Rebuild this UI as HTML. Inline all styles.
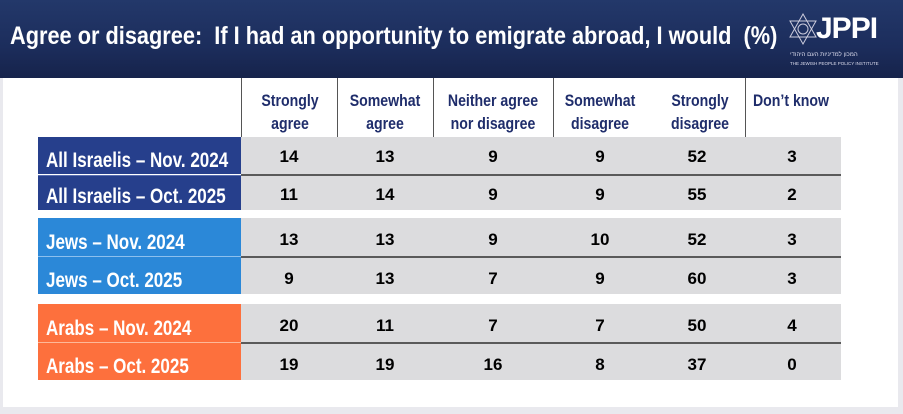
<!DOCTYPE html>
<html><head><meta charset="utf-8"><style>
*{margin:0;padding:0;box-sizing:border-box}
body{width:903px;height:414px;background:#e9e9ee;position:relative;overflow:hidden;font-family:"Liberation Sans",sans-serif}
.main{position:absolute;left:3px;top:0;width:895px;height:407px;background:#fff}
.hdr{position:absolute;left:0;top:0;width:903px;height:78px;background:linear-gradient(180deg,#23386a 0%,#1c2d5c 60%,#16234b 100%)}
.title{position:absolute;left:10px;top:22px;color:#fff;font-weight:bold;font-size:25px;white-space:nowrap;transform:scaleX(0.87);transform-origin:0 0}
.colh{position:absolute;top:89px;color:#1f2d6b;font-weight:bold;font-size:17px;text-align:center;line-height:23px;transform:scaleX(0.83)}
.vl{position:absolute;top:78px;height:59px;width:1px;background:#555}
.lab{position:absolute;left:38px;width:203px;color:#fff;font-weight:bold;font-size:21px;display:flex;align-items:flex-end;padding-bottom:1px;white-space:nowrap}
.lab span{display:inline-block;margin-left:8px;transform:scaleX(0.81);transform-origin:0 100%}
.g{position:absolute;left:241px;width:600px;background:#dcdcde}
.sep{position:absolute;left:241px;width:600px;height:2px;background:#5a5a5a}
.n{position:absolute;font-weight:bold;font-size:17px;color:#000;text-align:center;width:40px}
</style></head><body>
<div class="main"></div>
<div class="hdr"></div>
<div class="title">Agree or disagree:&nbsp; If I had an opportunity to emigrate abroad, I would&nbsp; (%)</div>
<svg style="position:absolute;left:788px;top:12px" width="30" height="34" viewBox="0 0 30 34"><polygon points="15,2 28,25 2,25" fill="none" stroke="#ccd" stroke-width="1"/><polygon points="15,32 28,9 2,9" fill="none" stroke="#ccd" stroke-width="1"/><circle cx="15" cy="17" r="5" fill="none" stroke="#ccd"/></svg>
<div style="position:absolute;left:816px;top:12px;color:#fff;font-weight:bold;font-size:30px;letter-spacing:-1px">JPPI</div>
<div style="position:absolute;left:790px;top:52px;color:#dde;font-size:6px">המכון למדיניות העם היהודי</div>
<div style="position:absolute;left:790px;top:61px;color:#dde;font-size:4.5px">THE JEWISH PEOPLE POLICY INSTITUTE</div>

<div class="vl" style="left:241px"></div><div class="vl" style="left:337px"></div><div class="vl" style="left:433px"></div><div class="vl" style="left:553px"></div><div class="vl" style="left:745px"></div>
<div class="colh" style="left:245px;width:90px">Strongly<br>agree</div>
<div class="colh" style="left:335px;width:100px">Somewhat<br>agree</div>
<div class="colh" style="left:428px;width:130px">Neither agree<br>nor disagree</div>
<div class="colh" style="left:550px;width:100px">Somewhat<br>disagree</div>
<div class="colh" style="left:650px;width:100px">Strongly<br>disagree</div>
<div class="colh" style="left:741px;width:100px">Don’t know</div>

<div class="g" style="top:137px;height:73px"></div><div class="sep" style="top:174px"></div>
<div class="g" style="top:218px;height:76px"></div><div class="sep" style="top:256px"></div>
<div class="g" style="top:304px;height:76px"></div><div class="sep" style="top:342px"></div>

<div class="lab" style="top:137px;height:37px;background:#263f8c"><span>All Israelis – Nov. 2024</span></div>
<div class="lab" style="top:175px;height:35px;background:#263f8c;border-top:1px solid #5a6fb0"><span>All Israelis – Oct. 2025</span></div>
<div class="lab" style="top:218px;height:38px;background:#2b88d8"><span>Jews – Nov. 2024</span></div>
<div class="lab" style="top:256px;height:38px;background:#2b88d8;border-top:1px solid #8cc0ee"><span>Jews – Oct. 2025</span></div>
<div class="lab" style="top:304px;height:38px;background:#fd703d"><span>Arabs – Nov. 2024</span></div>
<div class="lab" style="top:342px;height:38px;background:#fd703d;border-top:1px solid #fdb899"><span>Arabs – Oct. 2025</span></div>

<div id="nums"></div>
<script>
var data=[[147,[14,13,9,9,52,3]],[185,[11,14,9,9,55,2]],[230,[13,13,9,10,52,3]],[269,[9,13,7,9,60,3]],[316,[20,11,7,7,50,4]],[355,[19,19,16,8,37,0]]];
var xs=[289,385,493,600,697,792];var h='';
data.forEach(function(r){r[1].forEach(function(v,i){h+='<div class="n" style="left:'+(xs[i]-20)+'px;top:'+r[0]+'px">'+v+'</div>';});});
document.getElementById('nums').innerHTML=h;
</script>
</body></html>
